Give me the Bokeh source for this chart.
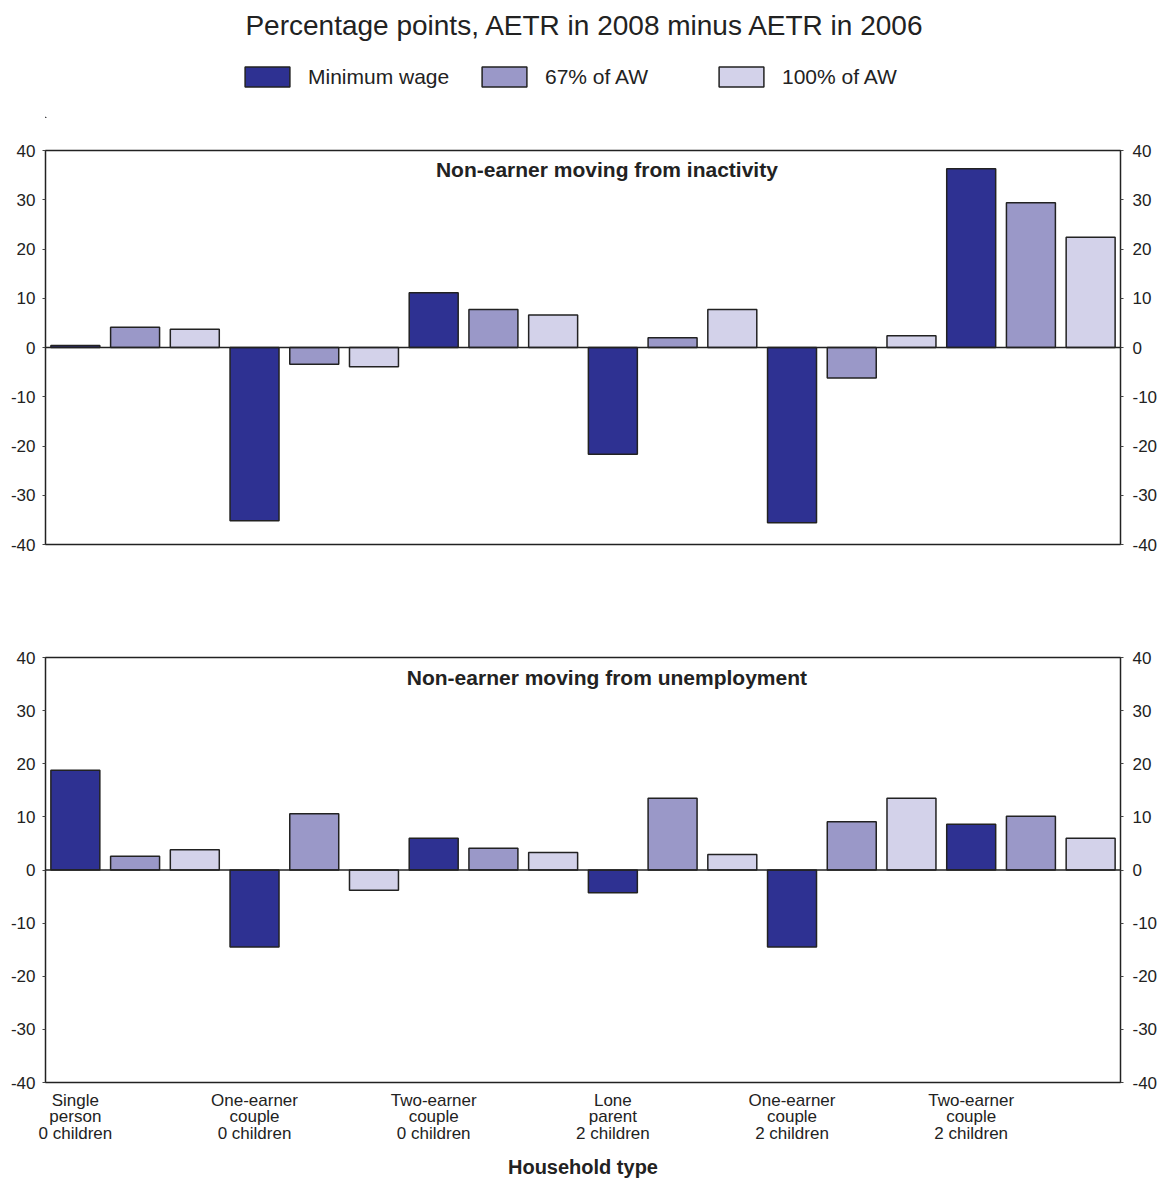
from bokeh.plotting import figure
from bokeh.models import (ColumnDataSource, Range1d, LinearAxis, FixedTicker, Span,
                          Label, Legend, LegendItem)
from bokeh.layouts import column
from bokeh.embed import file_html
from bokeh.resources import INLINE
from bokeh.core.properties import value

# ---------------- data ----------------
household_types = ["Single\nperson\n0 children", "One-earner\ncouple\n0 children",
                   "Two-earner\ncouple\n0 children", "Lone\nparent\n2 children",
                   "One-earner\ncouple\n2 children", "Two-earner\ncouple\n2 children"]
series_names = ["Minimum wage", "67% of AW", "100% of AW"]

inactivity_min_wage = [0.4, -35.2, 11.1, -21.7, -35.6, 36.3]
inactivity_67_aw = [4.1, -3.4, 7.7, 2.0, -6.2, 29.4]
inactivity_100_aw = [3.7, -3.9, 6.6, 7.7, 2.4, 22.4]

unemployment_min_wage = [18.8, -14.5, 6.0, -4.3, -14.5, 8.6]
unemployment_67_aw = [2.6, 10.6, 4.1, 13.5, 9.1, 10.1]
unemployment_100_aw = [3.8, -3.8, 3.3, 2.9, 13.5, 6.0]

y_ticks = [-40, -30, -20, -10, 0, 10, 20, 30, 40]
y_tick_labels = ["-40", "-30", "-20", "-10", "0", "10", "20", "30", "40"]

title_text = "Percentage points, AETR in 2008 minus AETR in 2006"
panel_titles = ["Non-earner moving from inactivity", "Non-earner moving from unemployment"]
x_axis_title = "Household type"

# ---------------- style ----------------
COLORS = ["#2e3192", "#9a98c8", "#d3d2ea"]
EDGE = "#222222"
FONT = "Liberation Sans"
TEXT_COLOR = "#222222"
W = 1160
N_SERIES = len(series_names)
N_SLOTS = len(household_types) * N_SERIES
BAR_W = 0.82


def bar_source(values, s_idx):
    xs = [g * N_SERIES + s_idx + 0.5 for g in range(len(values))]
    return ColumnDataSource(dict(x=xs, top=values, bottom=[0] * len(values)))


def make_panel(series, subtitle, height, b_top, b_bottom, show_x):
    p = figure(width=W, height=height, x_range=Range1d(0, N_SLOTS), y_range=Range1d(-40, 40),
               output_backend="svg", toolbar_location=None,
               min_border_left=45, min_border_right=40,
               min_border_top=b_top, min_border_bottom=b_bottom)
    p.background_fill_color = "white"
    p.border_fill_color = "white"
    p.outline_line_color = EDGE
    p.outline_line_width = 1.5
    p.xgrid.visible = False
    p.ygrid.visible = False

    for s_idx, vals in enumerate(series):
        p.vbar(x="x", top="top", bottom="bottom", width=BAR_W, source=bar_source(vals, s_idx),
               fill_color=COLORS[s_idx], line_color=EDGE, line_width=1.5)

    p.add_layout(Span(location=0, dimension="width", line_color=EDGE, line_width=1.5))

    def style_y(ax, standoff):
        ax.ticker = FixedTicker(ticks=y_ticks)
        ax.major_label_overrides = {t: lab for t, lab in zip(y_ticks, y_tick_labels)}
        ax.axis_line_color = None
        ax.major_tick_line_color = "#444444"
        ax.major_tick_in = 0
        ax.major_tick_out = 3
        ax.minor_tick_line_color = None
        ax.major_label_standoff = standoff
        ax.major_label_text_font = FONT
        ax.major_label_text_font_size = "17px"
        ax.major_label_text_color = TEXT_COLOR

    style_y(p.yaxis[0], 7)
    right = LinearAxis()
    style_y(right, 9)
    p.add_layout(right, "right")

    p.add_layout(Label(x=9.4, y=36.2, text=subtitle, text_align="center",
                       text_baseline="middle", text_font=FONT, text_font_size="21px",
                       text_font_style="bold", text_color=TEXT_COLOR))

    xa = p.xaxis[0]
    if show_x:
        ticks = [g * N_SERIES + 0.5 for g in range(len(household_types))]
        xa.ticker = FixedTicker(ticks=ticks)
        xa.major_label_overrides = {t: lab for t, lab in zip(ticks, household_types)}
        xa.axis_line_color = None
        xa.major_tick_line_color = None
        xa.minor_tick_line_color = None
        xa.major_label_standoff = 2
        xa.major_label_text_font = FONT
        xa.major_label_text_font_size = "17px"
        xa.major_label_text_line_height = 0.87
        xa.major_label_text_color = TEXT_COLOR
        xa.axis_label = x_axis_title
        xa.axis_label_text_font = FONT
        xa.axis_label_text_font_size = "20px"
        xa.axis_label_text_font_style = "bold"
        xa.axis_label_text_color = TEXT_COLOR
        xa.axis_label_standoff = 10
    else:
        xa.visible = False
    return p


# ---------------- header (title + legend) ----------------
# the column aligns the header's frame with the panels' frames (x 45..1120),
# so the header's x range is expressed directly in page pixels.
H0 = 118
header = figure(width=W, height=H0, x_range=Range1d(45, 1120), y_range=Range1d(0, H0),
                output_backend="svg", toolbar_location=None,
                x_axis_type=None, y_axis_type=None,
                min_border_left=45, min_border_right=40,
                min_border_top=0, min_border_bottom=0)
header.grid.visible = False
header.outline_line_color = None
header.background_fill_color = "white"
header.border_fill_color = "white"
header.text(x=[585], y=[H0 - 25], text=[title_text], text_align="center",
            text_baseline="middle", text_font=value(FONT), text_font_size="28px",
            text_color=TEXT_COLOR)

items = []
for i, name in enumerate(series_names):
    # swatch renderers: one bar placed outside the visible header range
    r = header.vbar(x=[-500], top=[1], width=1, fill_color=COLORS[i],
                    line_color=EDGE, line_width=1.5)
    items.append(LegendItem(label=name, renderers=[r]))
legend = Legend(items=items, orientation="horizontal", location=(194, 29),
                glyph_width=56, glyph_height=25, label_standoff=13, spacing=18,
                label_width=150, label_height=25, padding=0, margin=0,
                border_line_color=None, background_fill_alpha=0,
                label_text_font=FONT, label_text_font_size="21px",
                label_text_color=TEXT_COLOR, label_text_baseline="middle")
header.add_layout(legend, "center")

top = make_panel([inactivity_min_wage, inactivity_67_aw, inactivity_100_aw],
                 panel_titles[0], 480, 32, 54, False)
bottom = make_panel([unemployment_min_wage, unemployment_67_aw, unemployment_100_aw],
                    panel_titles[1], 582, 59, 97, True)

layout = column(header, top, bottom, spacing=0)
open("out.html", "w").write(file_html(layout, INLINE))
